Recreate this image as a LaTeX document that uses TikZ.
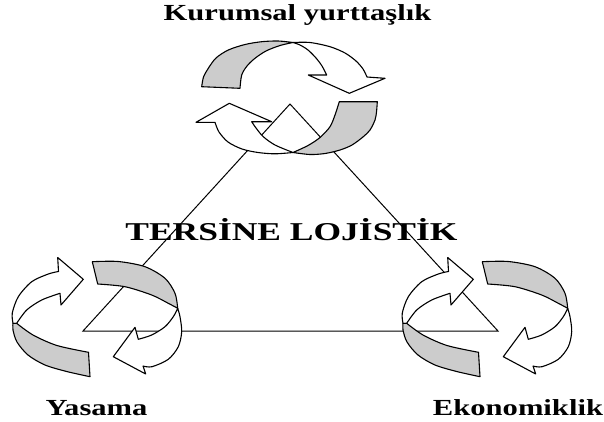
\documentclass[tikz,border=0pt]{standalone}
\usepackage{fontspec}
\setmainfont{Liberation Serif}
\usepackage{graphicx}
\newcommand\wide[2]{\scalebox{#1}[1]{#2}}
\tikzset{
  ribw/.style={fill=white,draw=black,line width=1.1pt,line join=round},
  ribg/.style={fill=black!20,draw=black,line width=1.1pt,line join=round},
  edge/.style={draw=black,line width=1pt},
  lbl/.style={font=\fontsize{23}{27}\selectfont\bfseries,inner sep=0pt,anchor=base},
  biglbl/.style={font=\fontsize{25.7}{30}\selectfont\bfseries,inner sep=0pt,anchor=base}
}
\newcommand\cycleicon{%
  % arrow A, back (white)
  \filldraw[ribw] (13,323.3) -- plot[smooth] coordinates {(13,323.3) (12.3,313) (18.3,296.7) (31.7,281.7) (48.3,274) (58.5,271.5)}
    -- (57.7,257.5) -- (83.3,279.3) -- (61,305) -- (60,293.3)
    -- plot[smooth] coordinates {(60,293.3) (41.7,300) (26.7,310) (16.7,323.3)} -- cycle;
  % arrow A, front (grey)
  \filldraw[ribg] (16.7,323.3) -- plot[smooth] coordinates {(16.7,323.3) (33,335) (57,345.5) (88.5,352.3)}
    -- (90,376.7)
    -- plot[smooth] coordinates {(90,376.7) (66.7,371.5) (45,365) (28,355) (17,342) (13,330) (13,323.3)} -- cycle;
  % arrow B, back (grey)
  \filldraw[ribg] (92.3,261.7) -- plot[smooth] coordinates {(92.3,261.7) (118.3,261.5) (145,266.7) (165,278.3) (175,293.3) (177.7,308.3)}
    -- plot[smooth] coordinates {(177.7,308.3) (168.3,303.3) (151.7,295) (125,286.7) (97.7,284)} -- cycle;
  % arrow B, front (white)
  \filldraw[ribw] (177.7,308.3) -- plot[smooth] coordinates {(177.7,308.3) (180,316.7) (181.7,331.7) (178.3,346.7) (168.3,359.3) (152,366.7) (143,366)}
    -- (145.7,374) -- (113.3,356.7) -- (135,327.3) -- (138.3,339.3)
    -- plot[smooth] coordinates {(138.3,339.3) (151.7,335) (165,326.7) (173.3,316.7) (177.7,308.3)} -- cycle;
}
\begin{document}
\begin{tikzpicture}[x=1pt,y=-1pt]
\useasboundingbox (0,0) rectangle (604,421);
\fill[white] (0,0) rectangle (604,421);
% triangle
\coordinate (T) at (290,104);
\coordinate (L) at (83,331);
\coordinate (R) at (498,331);
\draw[edge] (T) -- (L) -- (R) -- cycle;
% top cycle
\filldraw[ribg] (201.7,86.7) -- plot[smooth] coordinates {(201.7,86.7) (203.5,77) (208.3,68.3) (216,58) (228.3,50) (245,44.5) (261.7,41.7) (278,41) (293,42.5)}
  -- plot[smooth] coordinates {(293,42.5) (280,45.5) (266,51) (255,58.3) (247,66) (241.7,75) (240,88.3)} -- cycle;
\filldraw[ribw] (293,42.5) -- plot[smooth] coordinates {(293,42.5) (310,42.5) (330,46.7) (345,53) (356,61) (363,69) (367,77)}
  -- (385,78.3) -- (349.3,93.3) -- (308.3,75) -- (326.7,75)
  -- plot[smooth] coordinates {(326.7,75) (322,66) (316,58) (308,50) (300,45) (293,42.5)} -- cycle;
\filldraw[ribw] (215,122.3) -- (196,122.3) -- (229.3,103.3) -- (271.7,121.7) -- (251.7,121.7)
  -- plot[smooth] coordinates {(251.7,121.7) (256,128) (263.3,136.7) (275,145) (293,152.5)}
  -- plot[smooth] coordinates {(293,152.5) (275,153.8) (258,152.5) (242,149) (228,142) (219,132) (215,122.3)} -- cycle;
\filldraw[ribg] (339.3,101.7) -- (377.3,101.7)
  -- plot[smooth] coordinates {(377.3,101.7) (376.5,112) (375,120) (370,130) (363.3,136.7) (352,145) (340,150) (325,153.5) (310,154.5) (293,152.5)}
  -- plot[smooth] coordinates {(293,152.5) (308,145.5) (320,137.5) (330,126.7) (335,115) (339.3,101.7)} -- cycle;
% bottom cycles
\cycleicon
\begin{scope}[xshift=390pt]
\cycleicon
\end{scope}
% labels
\node[lbl] (kur) at (297.5,20) {\wide{1.33}{Kurumsal yurttaşlık}};
\node[biglbl] (ters) at (291.5,240) {\wide{1.38}{TERSİNE LOJİSTİK}};
\node[lbl] (yas) at (96.5,415) {\wide{1.33}{Yasama}};
\node[lbl] (eko) at (518,415) {\wide{1.33}{Ekonomiklik}};
\end{tikzpicture}
\end{document}
